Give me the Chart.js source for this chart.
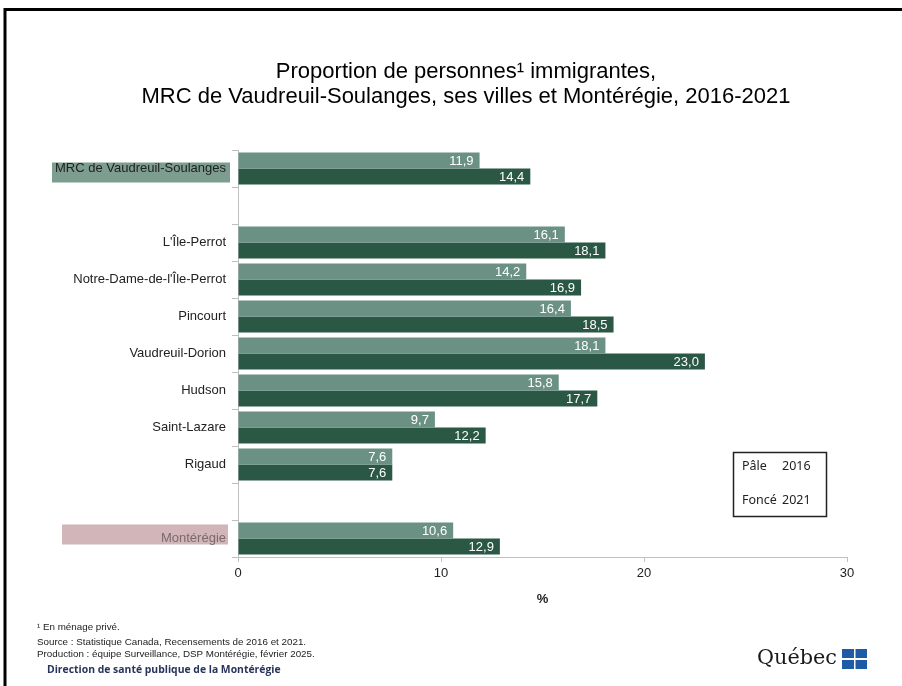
<!DOCTYPE html>
<html>
<head>
<meta charset="utf-8">
<script src="https://cdn.jsdelivr.net/npm/chart.js@4/dist/chart.umd.min.js"></script>
<style>
  body { margin: 0; background: #fff; }
  #wrap { width: 902px; height: 686px; }
</style>
</head>
<body>
<div id="wrap"><canvas id="grafikoa" width="902" height="686"></canvas></div>
<script>
const categories = ['MRC de Vaudreuil-Soulanges', '', "L'Île-Perrot", "Notre-Dame-de-l'Île-Perrot", 'Pincourt',
  'Vaudreuil-Dorion', 'Hudson', 'Saint-Lazare', 'Rigaud', '', 'Montérégie'];
const values2016 = [11.9, null, 16.1, 14.2, 16.4, 18.1, 15.8, 9.7, 7.6, null, 10.6];
const values2021 = [14.4, null, 18.1, 16.9, 18.5, 23.0, 17.7, 12.2, 7.6, null, 12.9];
const xTicks = [0, 10, 20, 30];

const titleLines = ['Proportion de personnes\u00B9 immigrantes,',
  'MRC de Vaudreuil-Soulanges, ses villes et Montérégie, 2016-2021'];
const notes = ['\u00B9 En ménage privé.',
  'Source : Statistique Canada, Recensements de 2016 et 2021.',
  'Production : équipe Surveillance, DSP Montérégie, février 2025.'];

const FONT = "'Liberation Sans', Arial, sans-serif";
const light = '#6b9185';
const dark = '#2b5844';

// title, notes, frame, legend box, logo
const decor = {
  id: 'decor',
  beforeDraw(chart) {
    const c = chart.ctx;
    const y = chart.scales.y;
    c.save();
    // label highlights
    let py = y.getPixelForValue(0);
    c.fillStyle = '#7d9d90';
    c.fillRect(52, py - 6, 178, 20);
    py = y.getPixelForValue(10);
    c.fillStyle = '#d2b5b9';
    c.fillRect(62, py - 14, 166, 20);
    c.restore();
  },
  afterDraw(chart) {
    const c = chart.ctx;
    c.save();
    // frame
    c.strokeStyle = '#000';
    c.lineWidth = 3;
    c.beginPath();
    c.moveTo(5, 700); c.lineTo(5, 9.5); c.lineTo(905, 9.5);
    c.stroke();

    c.fillStyle = '#000';
    c.textAlign = 'center';
    c.textBaseline = 'middle';
    c.font = '22px ' + FONT;
    c.fillText(titleLines[0], 466, 72);
    c.fillText(titleLines[1], 466, 97);

    // legend box
    c.lineWidth = 1.5;
    c.strokeStyle = '#222';
    c.strokeRect(733.5, 452.5, 93, 64);
    c.textAlign = 'left';
    c.font = "12.5px 'Noto Sans', sans-serif";
    c.fillStyle = '#222';
    c.fillText('Pâle', 742, 466);
    c.fillText('2016', 782, 466);
    c.fillText('Foncé', 742, 500);
    c.fillText('2021', 782, 500);

    // notes
    c.font = '9.8px ' + FONT;
    c.fillStyle = '#222';
    c.fillText(notes[0], 37, 627);
    c.fillText(notes[1], 37, 642);
    c.fillText(notes[2], 37, 654);
    c.font = "bold 10.4px 'Open Sans', sans-serif";
    c.fillStyle = '#27345c';
    c.fillText('Direction de santé publique de la Montérégie', 47, 670);

    // logo
    c.font = "24px 'DejaVu Serif', serif";
    const w = c.measureText('Québec').width;
    c.font = (24 * 80 / w).toFixed(1) + "px 'DejaVu Serif', serif";
    c.fillStyle = '#1a1a1a';
    c.fillText('Québec', 757, 659);
    c.fillStyle = '#1f5aa6';
    [[842, 649], [855, 649], [842, 660], [855, 660]].forEach(([x, yy]) => c.fillRect(x, yy, 12, 9));
    c.fillStyle = '#fff';
    c.fillRect(854, 649, 1.5, 20);
    c.fillRect(842, 658, 25, 2);
    c.restore();
  }
};

const valueLabels = {
  id: 'valueLabels',
  afterDatasetsDraw(chart) {
    const c = chart.ctx;
    c.save();
    c.font = '13px ' + FONT;
    c.fillStyle = '#fff';
    c.textAlign = 'right';
    c.textBaseline = 'middle';
    chart.data.datasets.forEach((ds, i) => {
      chart.getDatasetMeta(i).data.forEach((el, j) => {
        const v = ds.data[j];
        if (v == null) return;
        c.fillText(v.toFixed(1).replace('.', ','), el.x - 6, el.y + 1);
      });
    });
    c.restore();
  }
};

const data = {
  labels: categories,
  datasets: [
    { label: '2016', data: values2016, backgroundColor: light },
    { label: '2021', data: values2021, backgroundColor: dark }
  ]
};

const config = {
  type: 'bar',
  data: data,
  options: {
    indexAxis: 'y',
    responsive: false,
    animation: false,
    categoryPercentage: 0.87,
    barPercentage: 1,
    layout: { padding: { left: 0, right: 55, top: 150, bottom: 79 } },
    plugins: {
      legend: { display: false },
      tooltip: { enabled: false }
    },
    scales: {
      y: {
        afterFit: s => { s.width = 238; },
        grid: { drawOnChartArea: false, tickLength: 6, color: '#bfbfbf', offset: true },
        border: { color: '#bfbfbf' },
        ticks: {
          padding: 6,
          font: { family: FONT, size: 13 },
          color: ctx => ctx.index === 10 ? '#7a6a6d' : '#222'
        }
      },
      x: {
        min: 0,
        max: 30,
        afterFit: s => { s.height = 50; },
        afterBuildTicks: s => { s.ticks = xTicks.map(v => ({ value: v })); },
        grid: { drawOnChartArea: false, tickLength: 5, color: '#bfbfbf' },
        border: { color: '#bfbfbf' },
        ticks: { padding: 4, font: { family: FONT, size: 13 }, color: '#222' },
        title: { display: true, text: '%', font: { family: FONT, size: 13, weight: 'bold' }, color: '#222', padding: 0 }
      }
    }
  },
  plugins: [decor, valueLabels]
};

const ctx = document.getElementById('grafikoa').getContext('2d');
new Chart(ctx, config);
</script>
</body>
</html>
